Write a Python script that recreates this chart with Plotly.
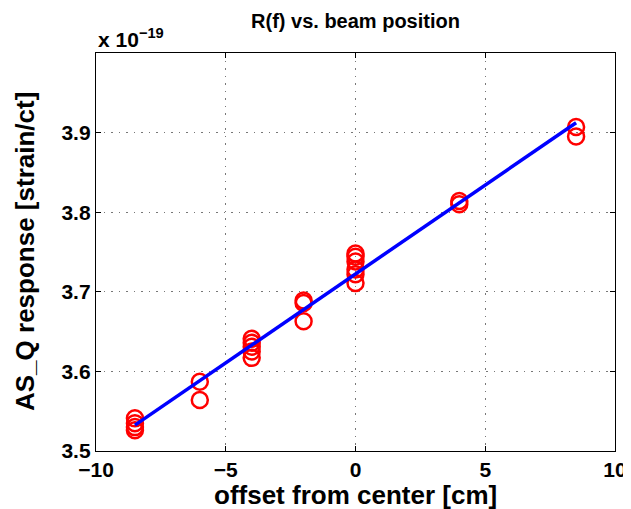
import numpy as np
import plotly.graph_objects as go

# measured beam offsets [cm] and AS_Q response [1e-19 strain/ct]
offset = [-8.5, -8.5, -8.5, -8.5,
          -6, -6,
          -4, -4, -4, -4, -4,
          -2, -2, -2,
          0, 0, 0, 0, 0, 0,
          4, 4,
          8.5, 8.5]
response = [3.541, 3.535, 3.530, 3.526,
            3.587, 3.564,
            3.641, 3.636, 3.631, 3.625, 3.617,
            3.689, 3.686, 3.663,
            3.748, 3.744, 3.738, 3.728, 3.722, 3.711,
            3.814, 3.810,
            3.907, 3.895]

x_ticks = [-10, -5, 0, 5, 10]
y_ticks = [3.5, 3.6, 3.7, 3.8, 3.9]
y_labels = ["3.5", "3.6", "3.7", "3.8", "3.9"]

# least-squares linear fit over the measured range
p = np.polyfit(offset, response, 1)
xf = np.array([min(offset), max(offset)])
yf = np.polyval(p, xf)

font = "Liberation Sans, Arial, sans-serif"

fig = go.Figure()
fig.add_trace(go.Scatter(x=offset, y=response, mode='markers',
                         marker=dict(symbol='circle-open', size=16, color='red',
                                     line=dict(color='red', width=2.5)),
                         showlegend=False))
fig.add_trace(go.Scatter(x=xf, y=yf, mode='lines',
                         line=dict(color='#0000ff', width=3.5),
                         showlegend=False))

axis_common = dict(showline=True, linecolor='black', linewidth=1.3, mirror='allticks',
                   ticks='inside', ticklen=5, tickcolor='black',
                   showgrid=True, gridcolor='#777777', griddash='1.5px,6px', gridwidth=1.2,
                   zeroline=False,
                   tickfont=dict(family=font, size=21, color='black', weight='bold'))

fig.update_layout(
    width=631, height=509,
    margin=dict(l=88, r=13, t=45, b=66),
    plot_bgcolor='white', paper_bgcolor='white',
    font=dict(family=font, color='black'),
    title=dict(text='<b>R(f) vs. beam position</b>', x=0.5, xanchor='center',
               xref='paper', y=0.988, yanchor='top',
               font=dict(family=font, size=20, color='black')),
    xaxis=dict(range=[-10, 10], tickvals=x_ticks, **axis_common),
    yaxis=dict(range=[3.5, 4.0], tickvals=y_ticks, ticktext=y_labels, **axis_common),
)

# axis titles placed as annotations to match the MATLAB layout
fig.add_annotation(text='<b>offset from center [cm]</b>', xref='paper', yref='paper',
                   x=0.5, y=0, xanchor='center', yanchor='middle', yshift=-44,
                   showarrow=False, font=dict(family=font, size=26, color='black'))
fig.add_annotation(text='<b>AS_Q response [strain/ct]</b>', xref='paper', yref='paper',
                   x=0, y=0.5, xanchor='center', yanchor='middle', xshift=-71, yshift=0,
                   textangle=-90, showarrow=False,
                   font=dict(family=font, size=26, color='black'))
fig.add_annotation(text='<b>x 10<sup>\u221219</sup></b>', xref='paper', yref='paper',
                   x=0, y=1, xanchor='left', yanchor='bottom', yshift=0, showarrow=False,
                   font=dict(family=font, size=21, color='black'))

fig.write_html("out.html")
